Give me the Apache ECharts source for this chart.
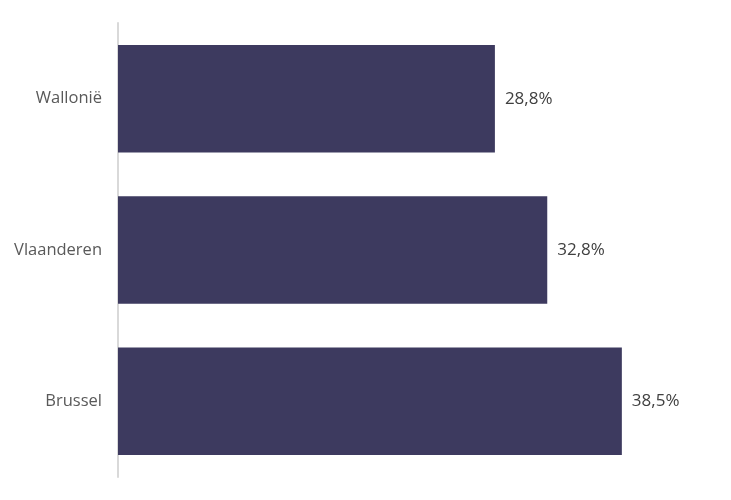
<!DOCTYPE html>
<html><head><meta charset="utf-8">
<script src="https://cdn.jsdelivr.net/npm/echarts@6/dist/echarts.min.js"></script>
<style>html,body{margin:0;padding:0;background:#fff}#c{width:731px;height:500px}</style>
</head><body><div id="c"></div>
<script>
const categories = ["Brussel", "Vlaanderen", "Wallonië"];
const values = [38.5, 32.8, 28.8];

const chart = echarts.init(document.getElementById('c'));
chart.setOption({
  animation: false,
  grid: { left: 118, right: 11, top: 23, bottom: 23, containLabel: false },
  xAxis: { type: 'value', min: 0, max: 46, show: false },
  yAxis: {
    type: 'category', data: categories,
    axisLine: { show: true, lineStyle: { color: '#d9d9d9', width: 2 } },
    axisTick: { show: false },
    axisLabel: { color: '#595959', fontSize: 16.5, fontFamily: 'Open Sans, sans-serif', margin: 16, padding: [4, 0, 0, 0] }
  },
  series: [{
    type: 'bar', data: values, barCategoryGap: '29%',
    itemStyle: { color: '#3d3a5f' },
    label: { show: true, position: 'right', distance: 10, color: '#404040', fontSize: 17,
      fontFamily: 'Open Sans, sans-serif', padding: [4, 0, 0, 0],
      formatter: p => p.value.toFixed(1).replace('.', ',') + '%' }
  }]
});
</script></body></html>
